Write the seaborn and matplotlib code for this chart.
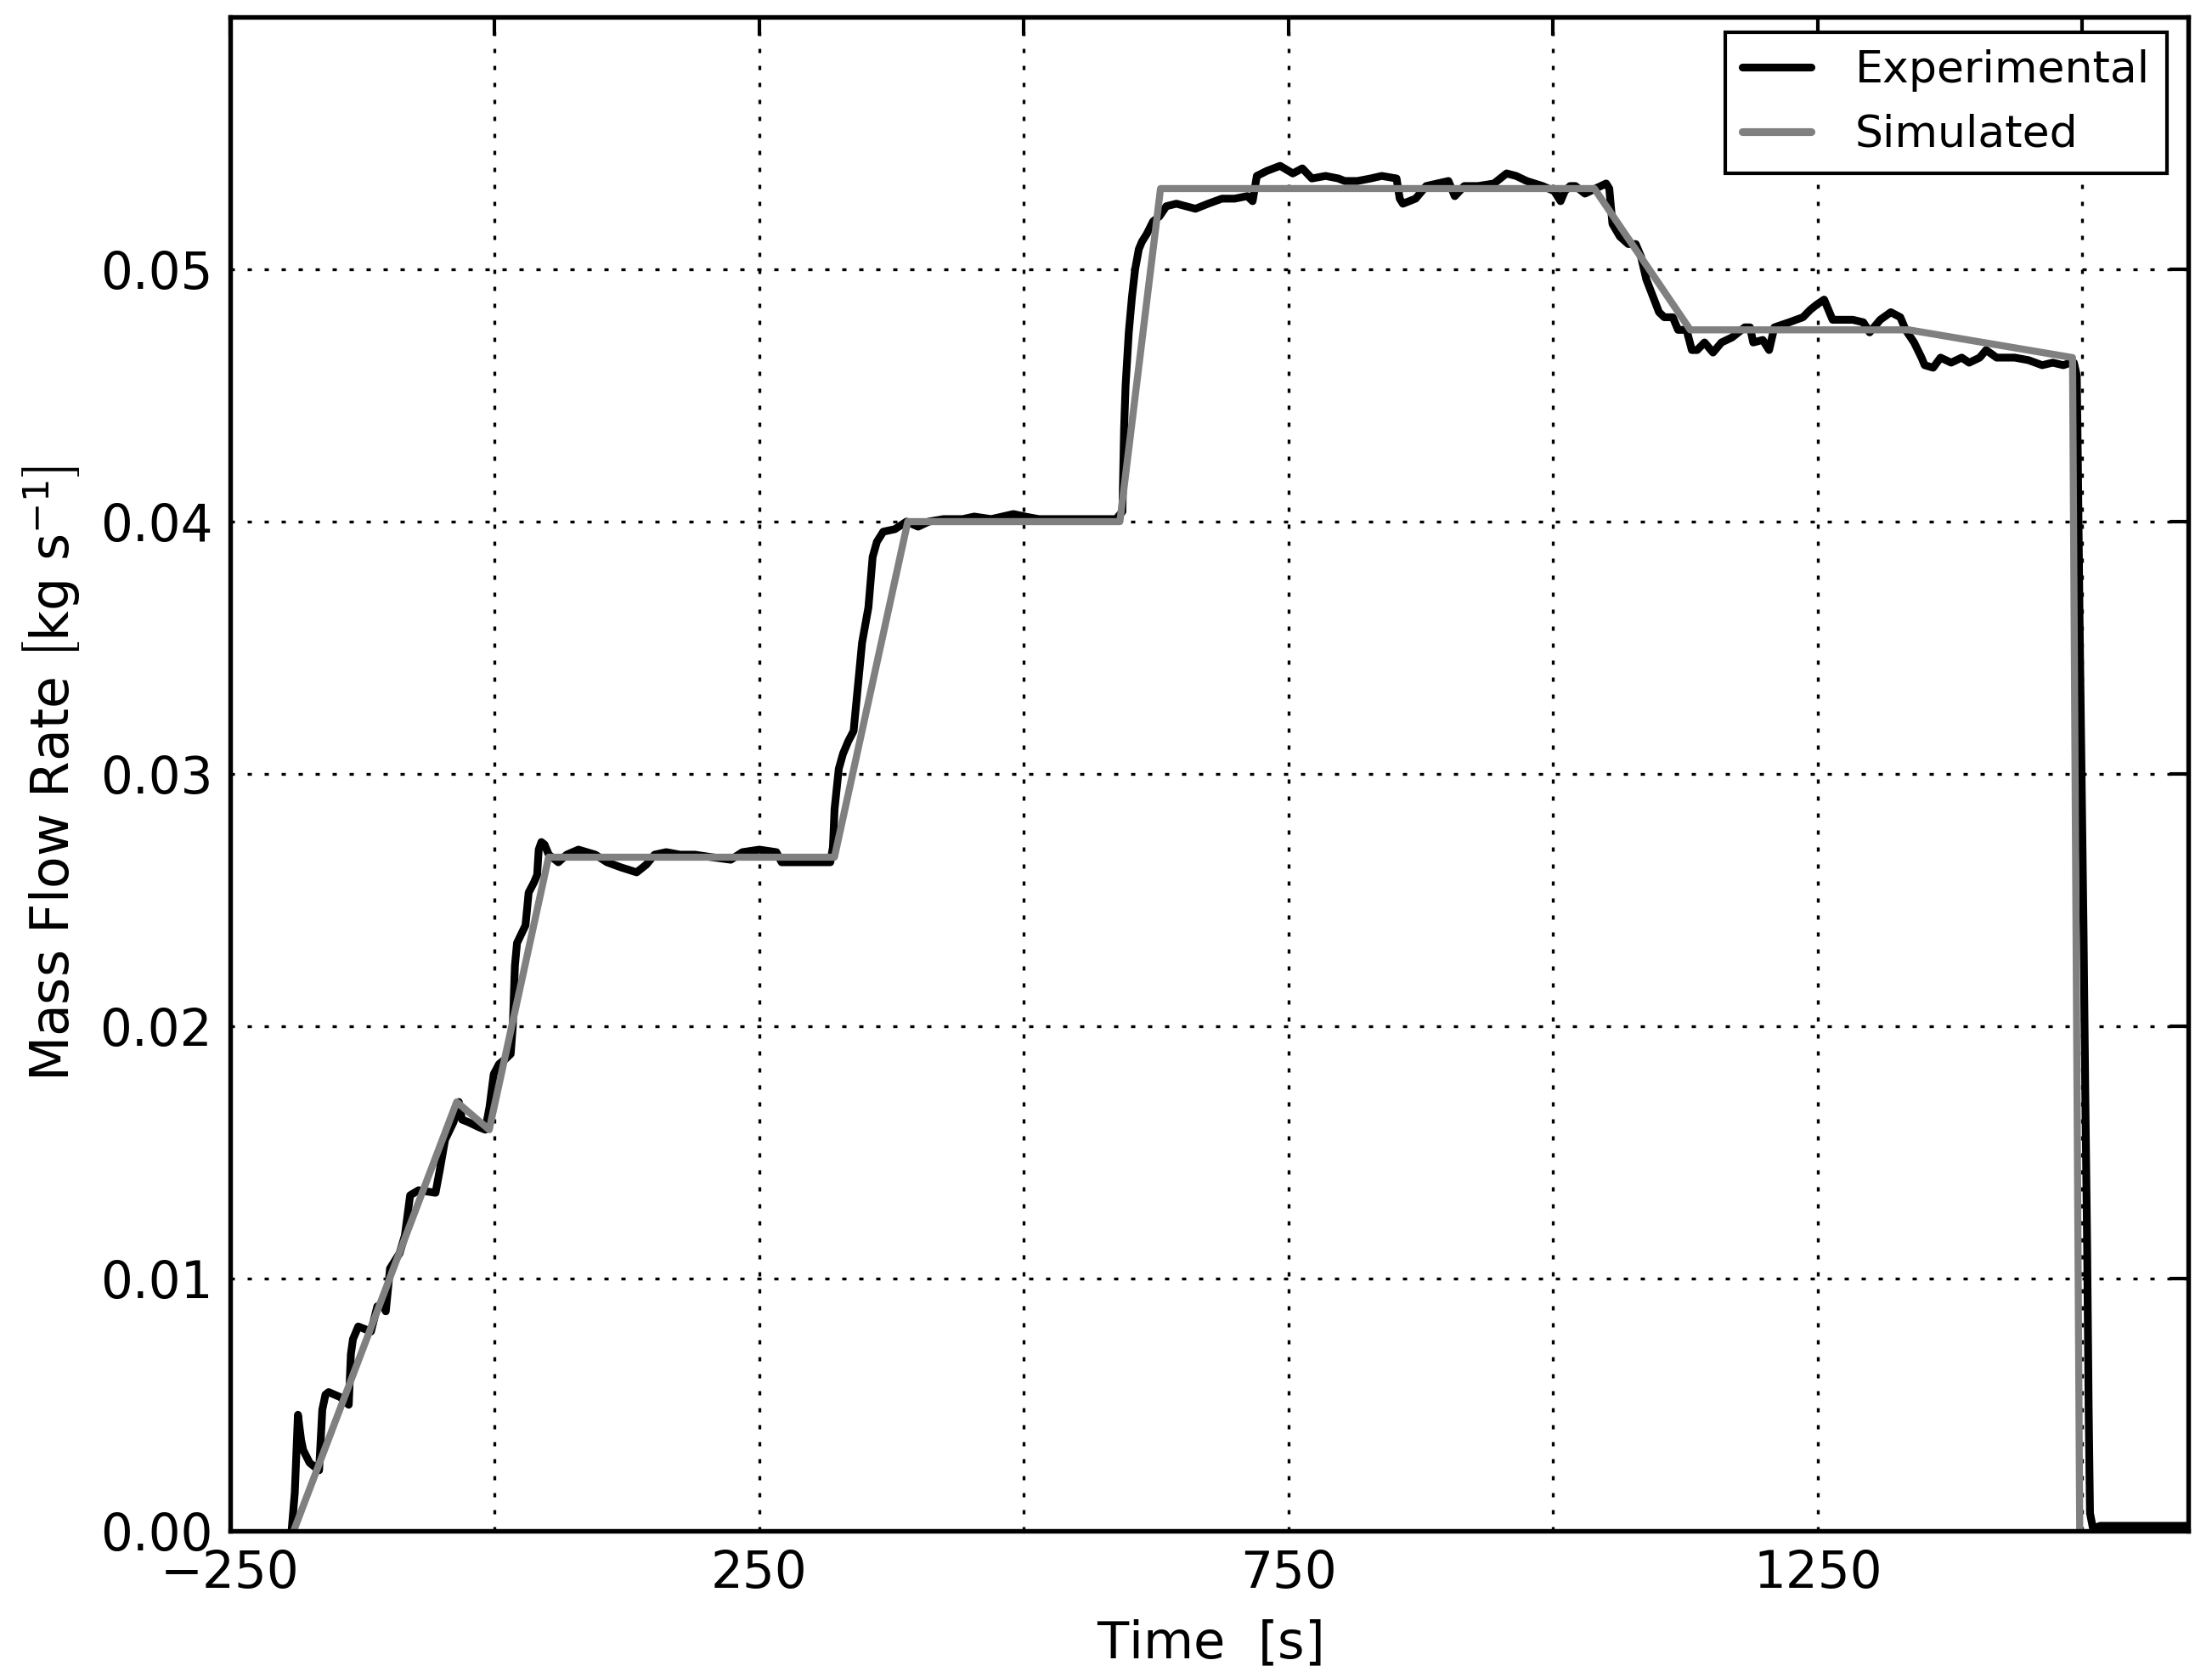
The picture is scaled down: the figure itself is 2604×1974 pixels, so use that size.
import numpy as np
import pandas as pd
import matplotlib
matplotlib.use("Agg")
import matplotlib.pyplot as plt
import seaborn as sns

# ---- data ----
exp_time = [-192, -189, -186, -183, -181, -175, -166, -163, -160, -157, -146, -138, -136, -134,
            -129, -117, -111, -106, -103, -99, -90, -85, -80, -72, -56, -52, -47, -39, -34, -31,
            -25, -15, -9, -5, -1, 4, 10, 15, 17, 19, 21, 29, 32, 37, 40, 41.5, 44, 47, 51, 60,
            68, 79, 95, 106, 119, 134, 143, 151, 162, 175, 189, 205, 223, 234, 250, 266, 271,
            290, 317, 319.5, 321, 325, 329, 334, 339, 342, 347, 353, 357, 361, 367, 378, 389,
            400, 410, 424, 442, 453, 469, 490, 501, 514, 530, 549, 568, 587, 593, 594.6, 596,
            599, 602, 605, 608.5, 611.5, 616, 622, 628, 634.5, 644, 662, 674, 687, 699, 711,
            716, 720, 729.5, 742, 754, 763, 772, 785, 797, 803, 815, 827.5, 838, 852, 855, 858,
            870, 880, 901, 907, 916, 929, 944, 956, 965, 975, 990, 1001, 1007, 1011, 1016, 1021,
            1030, 1040, 1050, 1053, 1056, 1063, 1071, 1078, 1083, 1088, 1094.5, 1100, 1105,
            1113, 1118, 1126, 1131, 1136, 1143, 1151, 1159, 1169, 1181, 1186, 1189, 1198, 1204,
            1209, 1223, 1236, 1243, 1249, 1256, 1261, 1264, 1283, 1293, 1299, 1309, 1319, 1328,
            1333, 1341, 1348, 1351, 1359, 1366, 1376, 1386, 1393, 1403, 1409, 1419, 1436, 1449,
            1462, 1472, 1482, 1489, 1492, 1494.7, 1495.7, 1497.3, 1499.2, 1501.1, 1502.7,
            1504.5, 1505.9, 1507.2, 1510, 1517, 1533, 1600]
exp_flow = [0.0000, 0.0015, 0.0046, 0.0036, 0.0032, 0.0027, 0.0024, 0.0048, 0.0054, 0.0055,
            0.0053, 0.0050, 0.0070, 0.0076, 0.0081, 0.0079, 0.0089, 0.0090, 0.0087, 0.0104,
            0.0110, 0.0117, 0.0133, 0.0135, 0.0134, 0.0143, 0.0155, 0.0162, 0.0170, 0.0163,
            0.0162, 0.0160, 0.0159, 0.0168, 0.0181, 0.0185, 0.0187, 0.0189, 0.0200, 0.0224,
            0.0233, 0.0240, 0.0253, 0.0257, 0.0260, 0.0270, 0.0273, 0.0272, 0.0268, 0.0265,
            0.0268, 0.0270, 0.0268, 0.0265, 0.0263, 0.0261, 0.0264, 0.0268, 0.0269, 0.0268,
            0.0268, 0.0267, 0.0266, 0.0269, 0.0270, 0.0269, 0.0265, 0.0265, 0.0265, 0.0271,
            0.0286, 0.0302, 0.0308, 0.0313, 0.0317, 0.0330, 0.0352, 0.0366, 0.0386, 0.0392,
            0.0396, 0.0397, 0.0400, 0.0398, 0.0400, 0.0401, 0.0401, 0.0402, 0.0401, 0.0403,
            0.0402, 0.0401, 0.0401, 0.0401, 0.0401, 0.0401, 0.0404, 0.0437, 0.0454, 0.0475,
            0.0489, 0.0500, 0.0508, 0.0511, 0.0514, 0.0519, 0.0521, 0.0525, 0.0526, 0.0524,
            0.0526, 0.0528, 0.0528, 0.0529, 0.0527, 0.0537, 0.0539, 0.0541, 0.0538, 0.0540,
            0.0536, 0.0537, 0.0536, 0.0535, 0.0535, 0.0536, 0.0537, 0.0536, 0.0528, 0.0526,
            0.0528, 0.0533, 0.0535, 0.0529, 0.0533, 0.0533, 0.0534, 0.0538, 0.0537, 0.0535,
            0.0533, 0.0531, 0.0527, 0.0531, 0.0533, 0.0533, 0.0530, 0.0532, 0.0534, 0.0532,
            0.0518, 0.0513, 0.0510, 0.0510, 0.0505, 0.0496, 0.0489, 0.0483, 0.0481, 0.0481,
            0.0476, 0.0476, 0.0468, 0.0468, 0.0471, 0.0467, 0.0471, 0.0473, 0.0477, 0.0477,
            0.0471, 0.0472, 0.0468, 0.0477, 0.0479, 0.0481, 0.0484, 0.0486, 0.0488, 0.0483,
            0.0480, 0.0480, 0.0479, 0.0475, 0.0480, 0.0483, 0.0481, 0.0476, 0.0471, 0.0465,
            0.0462, 0.0461, 0.0465, 0.0463, 0.0465, 0.0463, 0.0465, 0.0468, 0.0465, 0.0465,
            0.0464, 0.0462, 0.0463, 0.0462, 0.0463, 0.0463, 0.0458, 0.0425, 0.0363, 0.0300,
            0.0238, 0.0175, 0.0113, 0.0050, 0.0007, 0.0001, 0.0002, 0.0002, 0.0002]

sim_time = [-190, -36, -5.3, 50.8, 320.9, 390.2, 590.6, 629, 1038.9, 1129.5, 1335.9, 1490.7, 1497.5]
sim_flow = [0.0, 0.0170, 0.0159, 0.0267, 0.0267, 0.0400, 0.0400, 0.0532, 0.0532, 0.0476,
            0.0476, 0.0465, 0.0]

xtick_values = [-250, 0, 250, 500, 750, 1000, 1250, 1500]
xtick_labels = ["\u2212250", "", "250", "", "750", "", "1250", ""]
ytick_values = [0.00, 0.01, 0.02, 0.03, 0.04, 0.05]
ytick_labels = ["0.00", "0.01", "0.02", "0.03", "0.04", "0.05"]
series_names = ["Experimental", "Simulated"]

# ---- style ----
sns.set_style("white")
plt.rcParams["font.family"] = ["DejaVu Sans"]
plt.rcParams["mathtext.fontset"] = "dejavusans"
plt.rcParams["mathtext.default"] = "regular"
plt.rcParams["text.color"] = "black"
plt.rcParams["axes.labelcolor"] = "black"
plt.rcParams["xtick.color"] = "black"
plt.rcParams["ytick.color"] = "black"

W, H, DPI = 2604, 1974, 300
fig = plt.figure(figsize=(W / DPI, H / DPI), dpi=DPI)
ax = fig.add_axes([271 / W, 1 - 1802 / H, (2576 - 271) / W, (1802 - 20) / H])

df_exp = pd.DataFrame({"Time": exp_time, "Flow": exp_flow})
df_sim = pd.DataFrame({"Time": sim_time, "Flow": sim_flow})

sns.lineplot(data=df_exp, x="Time", y="Flow", ax=ax, color="black", lw=2.2,
             label=series_names[0], estimator=None, sort=False, zorder=3)
sns.lineplot(data=df_sim, x="Time", y="Flow", ax=ax, color="#808080", lw=2.0,
             label=series_names[1], estimator=None, sort=False, zorder=4)

ax.set_xlim(-250, 1600)
ax.set_ylim(0, 0.06)
ax.set_xticks(xtick_values)
ax.set_xticklabels(xtick_labels)
ax.set_yticks(ytick_values)
ax.set_yticklabels(ytick_labels)

ax.tick_params(axis="both", which="major", direction="in", length=5.3, width=1.0,
               labelsize=14.3, pad=5, top=True, right=True, colors="black",
               labelcolor="black")
for sp in ax.spines.values():
    sp.set_linewidth(1.3)
    sp.set_color("black")
    sp.set_visible(True)
    sp.set_zorder(5)

ax.grid(True, color="black", linewidth=0.8, linestyle=(0, (1.5, 4.5)))
ax.set_axisbelow(False)

ax.set_xlabel(r"Time  $\left[\mathrm{s}\right]$", fontsize=14.6, labelpad=6, color="black")
ax.set_ylabel(r"Mass Flow Rate $\left[\mathrm{kg\ s^{-1}}\right]$", fontsize=14.8,
              labelpad=5, color="black")

leg = ax.legend(loc="upper right", bbox_to_anchor=(2551 / W, 1 - 38 / H),
                bbox_transform=fig.transFigure, borderaxespad=0, fontsize=12.5,
                frameon=True, fancybox=False, shadow=False, handlelength=1.55,
                handletextpad=1.0, labelspacing=0.5, borderpad=0.38)
leg.get_frame().set_edgecolor("black")
leg.get_frame().set_linewidth(1.0)
leg.get_frame().set_alpha(1)
for line in leg.get_lines():
    line.set_linewidth(2.2)

fig.savefig("out.png", dpi=DPI)
